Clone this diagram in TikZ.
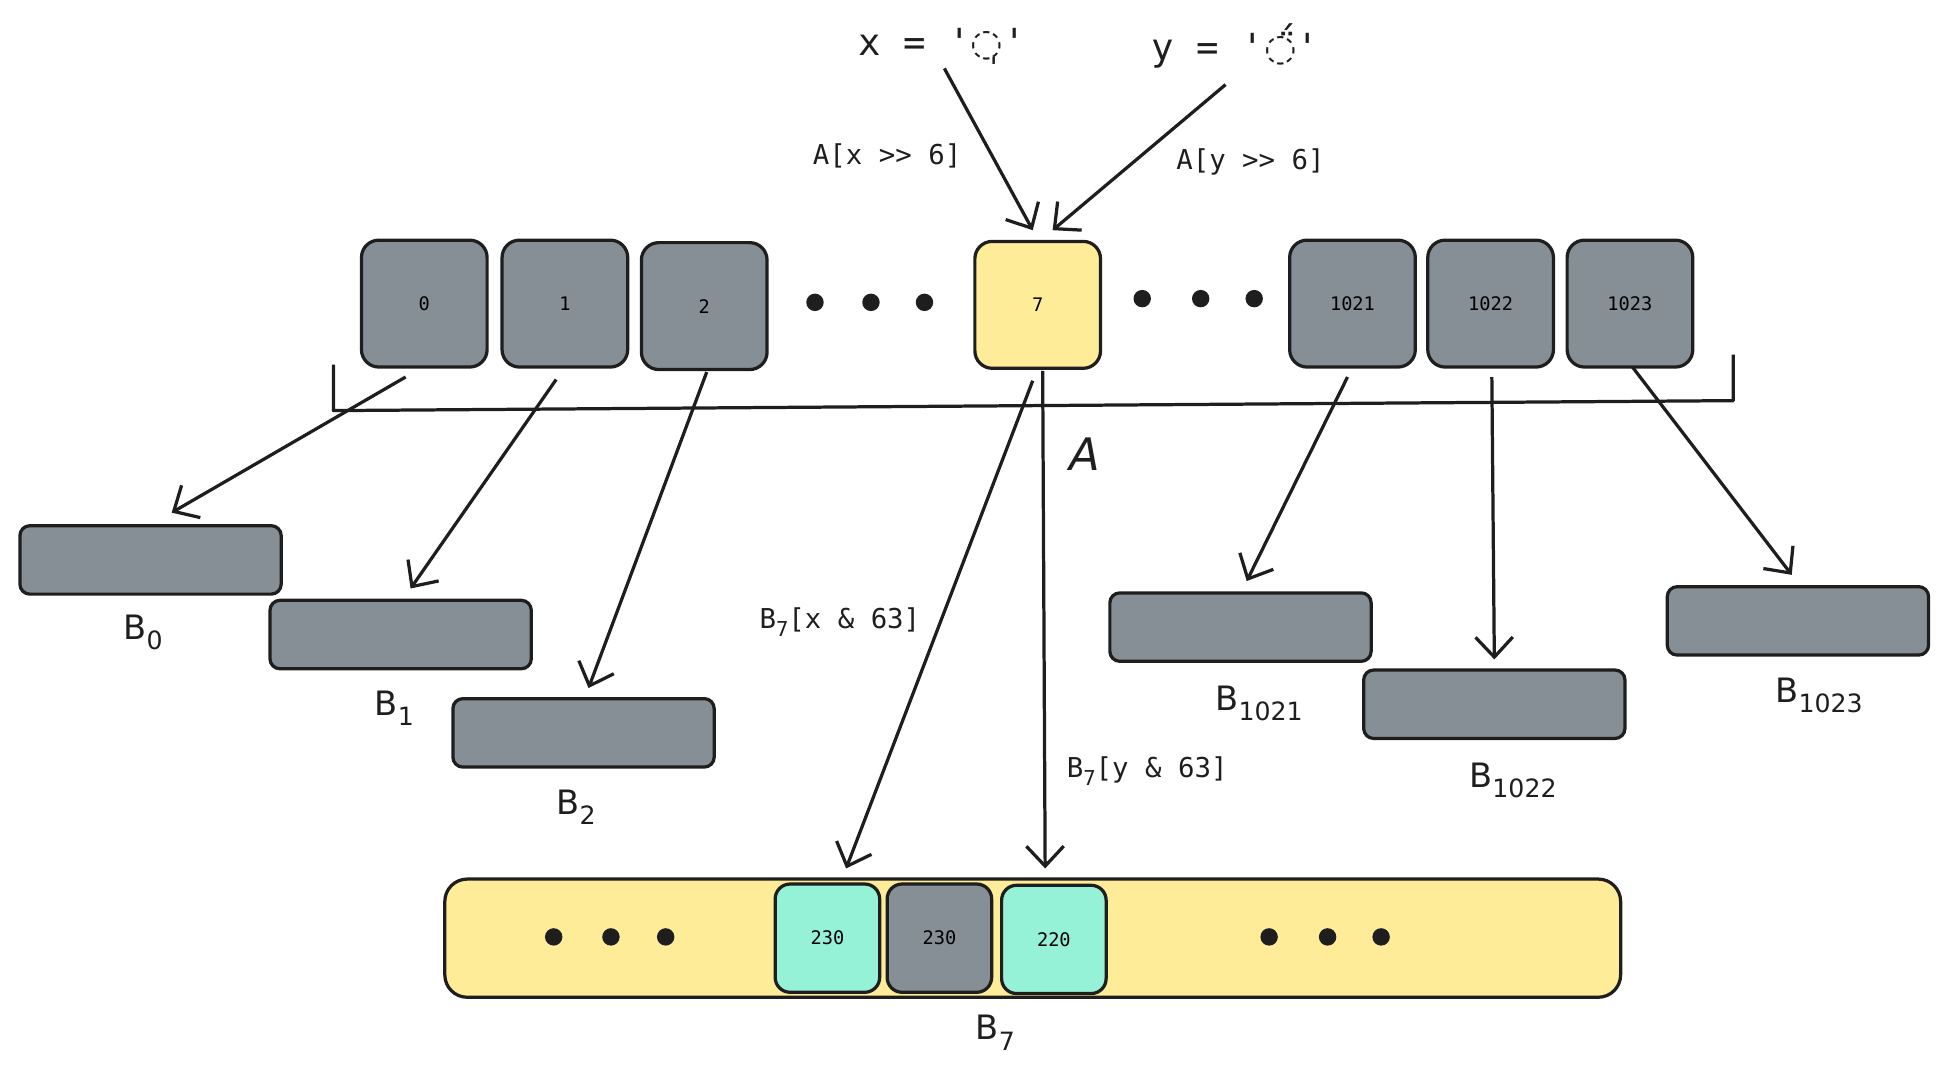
\documentclass[tikz,border=0pt]{standalone}
\usepackage{fontspec}
\setmainfont{DejaVu Sans}
\newfontfamily\monof{DejaVu Sans Mono}
\newfontfamily\symf{DejaVu Sans}
\usetikzlibrary{arrows.meta}
\definecolor{gr}{HTML}{868E96}
\definecolor{ye}{HTML}{FFEC99}
\definecolor{te}{HTML}{96F2D7}
\definecolor{ink}{HTML}{1E1E1E}
\newcommand\mysb[1]{\raisebox{-0.3em}{\fontsize{0.75em}{0.75em}\selectfont #1}}
\tikzset{
 cell/.style={draw=ink,line width=2.6pt,rounded corners=14pt,fill=gr,minimum width=101pt,minimum height=102pt,inner sep=0pt,font=\monof\fontsize{15}{15}\selectfont},
 bbox/.style={draw=ink,line width=2.6pt,rounded corners=8pt,fill=gr,minimum width=210pt,minimum height=55pt,inner sep=0pt},
 small/.style={draw=ink,line width=2.6pt,rounded corners=12pt,minimum width=84pt,minimum height=87pt,inner sep=0pt,font=\monof\fontsize{15}{15}\selectfont},
 dotn/.style={circle,fill=ink,minimum size=14pt,inner sep=0pt},
 arr/.style={draw=ink,line width=2.6pt,-{Straight Barb[length=16pt,width=30pt,line width=2.6pt]}},
 lab/.style={font=\fontsize{27}{27}\selectfont,text=ink},
 code/.style={font=\monof\fontsize{22}{22}\selectfont,text=ink},
}
\begin{document}
\begin{tikzpicture}[x=1pt,y=-1pt]
\useasboundingbox (0,0) rectangle (1560,867);
% A cells
\node[cell] (a0) at (341,244) {0};
\node[cell] (a1) at (454,244) {1};
\node[cell] (a2) at (566,246) {2};
\node[dotn] (d1) at (655,243) {};
\node[dotn] (d2) at (700,243) {};
\node[dotn] (d3) at (743,243) {};
\node[cell,fill=ye] (a7) at (834,245) {7};
\node[dotn] (d4) at (918,240) {};
\node[dotn] (d5) at (965,240) {};
\node[dotn] (d6) at (1008,240) {};
\node[cell] (a1021) at (1087,244) {1021};
\node[cell] (a1022) at (1198,244) {1022};
\node[cell] (a1023) at (1310,244) {1023};
% bracket
\coordinate (k1) at (268,293); \coordinate (k2) at (268,330);
\coordinate (k3) at (1393,322); \coordinate (k4) at (1393,285);
\draw[ink,line width=2.6pt,line join=round] (k1) -- (k2) -- (k3) -- (k4);
\node[font=\fontsize{36}{36}\selectfont\itshape,text=ink] (A) at (872,365) {A};
% B boxes
\node[bbox] (b0) at (121,450) {};
\node[bbox] (b1) at (322,510) {};
\node[bbox] (b2) at (469,589) {};
\node[bbox] (b1021) at (997,504) {};
\node[bbox] (b1022) at (1201,566) {};
\node[bbox] (b1023) at (1445,499) {};
\node[lab] (l0) at (115,508) {B\mysb{0}};
\node[lab] (l1) at (317,569) {B\mysb{1}};
\node[lab] (l2) at (463,649) {B\mysb{2}};
\node[lab] (l1021) at (1012,565) {B\mysb{1021}};
\node[lab] (l1022) at (1216,627) {B\mysb{1022}};
\node[lab] (l1023) at (1462,559) {B\mysb{1023}};
% arrows A->B
\coordinate (s0) at (326,303); \coordinate (e0) at (138,412);
\coordinate (s1) at (447,305); \coordinate (e1) at (330,473);
\coordinate (s2) at (568,299); \coordinate (e2) at (473,553);
\coordinate (s3) at (1083,303); \coordinate (e3) at (1002,467);
\coordinate (s4) at (1199,303); \coordinate (e4) at (1201,530);
\coordinate (s5) at (1312,295); \coordinate (e5) at (1440,462);
\draw[arr] (s0) -- (e0);
\draw[arr] (s1) -- (e1);
\draw[arr] (s2) -- (e2);
\draw[arr] (s3) -- (e3);
\draw[arr] (s4) -- (e4);
\draw[arr] (s5) -- (e5);
% B7
\node[draw=ink,line width=2.6pt,rounded corners=18pt,fill=ye,minimum width=945pt,minimum height=95pt] (b7) at (830,754) {};
\node[dotn] (d7) at (445,753) {};
\node[dotn] (d8) at (491,753) {};
\node[dotn] (d9) at (535,753) {};
\node[dotn] (d10) at (1020,753) {};
\node[dotn] (d11) at (1067,753) {};
\node[dotn] (d12) at (1110,753) {};
\node[small,fill=te] (c1) at (665,754) {230};
\node[small,fill=gr] (c2) at (755,754) {230};
\node[small,fill=te] (c3) at (847,755) {220};
\node[lab] (l7) at (800,830) {B\mysb{7}};
\coordinate (s6) at (830,306); \coordinate (e6) at (680,698);
\coordinate (s7) at (838,298); \coordinate (e7) at (840,698);
\draw[arr] (s6) -- (e6);
\draw[arr] (s7) -- (e7);
\node[code] (lx7) at (675,500) {B\mysb{7}[x \& 63]};
\node[code] (ly7) at (922,620) {B\mysb{7}[y \& 63]};
% top
\node[lab,font=\monof\fontsize{30}{30}\selectfont] (x) at (757,37) {x = '{\symf ◌̩}'};
\node[lab,font=\monof\fontsize{30}{30}\selectfont] (y) at (993,37) {y = '{\symf ◌̈́}'};
\coordinate (s8) at (759,55); \coordinate (e8) at (830,185);
\coordinate (s9) at (985,68); \coordinate (e9) at (846,185);
\draw[arr] (s8) -- (e8);
\draw[arr] (s9) -- (e9);
\node[code] (lx) at (713,125) {A[x >> 6]};
\node[code] (ly) at (1005,130) {A[y >> 6]};
\end{tikzpicture}
\end{document}
